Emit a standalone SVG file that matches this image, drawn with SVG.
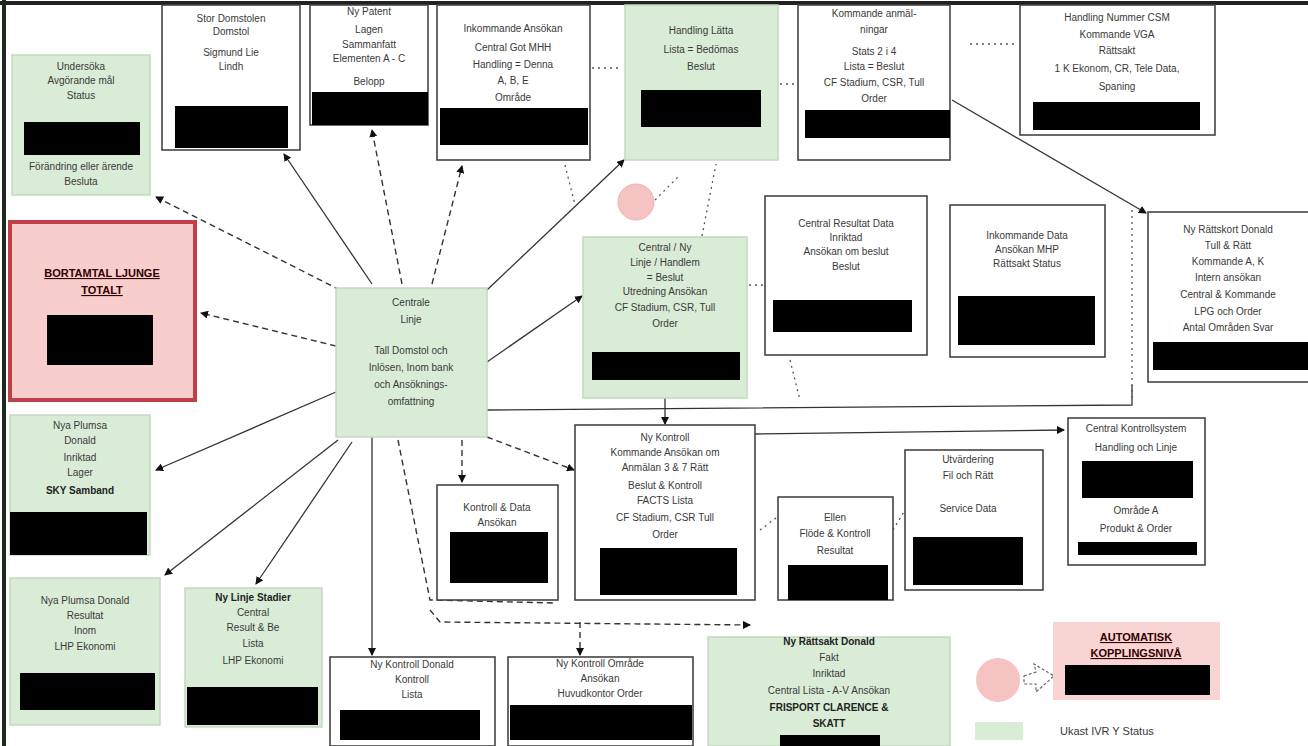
<svg xmlns="http://www.w3.org/2000/svg" width="1308" height="746" viewBox="0 0 1308 746">
<style>
.g{fill:#d9ecd6;stroke:#c4d8c1;stroke-width:1.5}
.w{fill:#fff;stroke:#444;stroke-width:1.6}
.bar{fill:#000}
.t{font-family:"Liberation Sans",Arial,sans-serif;font-size:10px;fill:#3a3a3a;text-anchor:middle}
.tb{font-family:"Liberation Sans",Arial,sans-serif;font-size:10px;fill:#222;text-anchor:middle;font-weight:bold}
.u{font-family:"Liberation Sans",Arial,sans-serif;font-size:11px;fill:#300;text-anchor:middle;font-weight:bold;text-decoration:underline}
.c{stroke:#333;fill:none;stroke-width:1.3}
.d{stroke:#333;fill:none;stroke-width:1.4;stroke-dasharray:6 4}
.p{stroke:#555;fill:none;stroke-width:1.3;stroke-dasharray:2 4}
</style>
<defs>
<marker id="a" markerWidth="8" markerHeight="8" refX="7" refY="4" orient="auto" markerUnits="userSpaceOnUse"><path d="M0,0 L8,4 L0,8 Z" fill="#111"/></marker>
</defs>
<rect x="0" y="0" width="1308" height="746" fill="#fff"/>
<line x1="0" y1="3" x2="1308" y2="3" stroke="#222" stroke-width="4"/>
<line x1="4" y1="0" x2="4" y2="746" stroke="#1e2a1e" stroke-width="4"/>

<g id="connectors">
<path class="d" d="M340,290 L156,197" marker-end="url(#a)"/>
<path class="c" d="M372,284 L284,154" marker-end="url(#a)"/>
<path class="d" d="M402,284 L372,130" marker-end="url(#a)"/>
<path class="d" d="M432,284 L462,166" marker-end="url(#a)"/>
<path class="c" d="M487,290 L624,160" marker-end="url(#a)"/>
<path class="d" d="M336,346 L201,313" marker-end="url(#a)"/>
<path class="c" d="M336,392 L156,470" marker-end="url(#a)"/>
<path class="c" d="M338,440 L165,575" marker-end="url(#a)"/>
<path class="c" d="M352,442 L256,584" marker-end="url(#a)"/>
<path class="c" d="M372,437 L372,655" marker-end="url(#a)"/>
<path class="d" d="M462,440 L462,482" marker-end="url(#a)"/>
<path class="d" d="M487,437 L574,470" marker-end="url(#a)"/>
<path class="c" d="M487,362 L582,296" marker-end="url(#a)"/>
<path class="d" d="M398,440 L430,600 L555,603"/>
<path class="d" d="M430,610 L440,622 L750,625" marker-end="url(#a)"/>
<path class="d" d="M580,622 L580,655" marker-end="url(#a)"/>
<path class="c" d="M487,410 L1132,405 L1132,385"/>
<path class="c" d="M755,434 L1064,430" marker-end="url(#a)"/>
<path class="c" d="M665,398 L665,424" marker-end="url(#a)"/>
<path class="p" d="M592,68 L622,68"/>
<path class="p" d="M780,84 L797,84"/>
<path class="p" d="M970,44 L1016,44"/>
<path class="c" d="M952,100 L1146,213" marker-end="url(#a)"/>
<path class="p" d="M1132,210 L1132,400"/>
<path class="p" d="M763,285 L748,285"/>
<path class="p" d="M702,236 L716,164"/>
<path class="p" d="M565,165 L575,205"/>
<path class="p" d="M790,360 L800,400"/>
<path class="p" d="M760,530 L780,515"/>
<path class="p" d="M893,530 L905,510"/>
<path class="p" d="M655,200 L680,175"/>
</g>

<g id="n1"><rect class="g" x="12" y="55" width="138" height="140"/>
<text class="t" x="81" y="70">Undersöka</text><text class="t" x="81" y="84">Avgörande mål</text><text class="t" x="81" y="99">Status</text>
<rect class="bar" x="24" y="122" width="116" height="33"/>
<text class="t" x="81" y="170">Förändring eller ärende</text><text class="t" x="81" y="185">Besluta</text></g>

<g id="n2"><rect class="w" x="162" y="5" width="138" height="145"/>
<text class="t" x="231" y="22">Stor Domstolen</text><text class="t" x="231" y="35">Domstol</text><text class="t" x="231" y="56">Sigmund Lie</text><text class="t" x="231" y="70">Lindh</text>
<rect class="bar" x="175" y="106" width="113" height="42"/></g>

<g id="n3"><rect class="w" x="310" y="5" width="118" height="120"/>
<text class="t" x="369" y="15">Ny Patent</text><text class="t" x="369" y="33">Lagen</text><text class="t" x="369" y="48">Sammanfatt</text><text class="t" x="369" y="62">Elementen A - C</text><text class="t" x="369" y="85">Belopp</text>
<rect class="bar" x="312" y="92" width="116" height="33"/></g>

<g id="n4"><rect class="w" x="437" y="5" width="153" height="155"/>
<text class="t" x="513" y="32">Inkommande Ansökan</text><text class="t" x="513" y="51">Central Got MHH</text><text class="t" x="513" y="68">Handling = Denna</text><text class="t" x="513" y="84">A, B, E</text><text class="t" x="513" y="101">Område</text>
<rect class="bar" x="440" y="108" width="148" height="37"/></g>

<g id="n5"><rect class="g" x="625" y="5" width="153" height="155"/>
<text class="t" x="701" y="34">Handling Lätta</text><text class="t" x="701" y="53">Lista = Bedömas</text><text class="t" x="701" y="70">Beslut</text>
<rect class="bar" x="641" y="90" width="120" height="37"/></g>

<g id="n6"><rect class="w" x="798" y="5" width="152" height="155"/>
<text class="t" x="874" y="17">Kommande anmäl-</text><text class="t" x="874" y="33">ningar</text><text class="t" x="874" y="55">Stats 2 i 4</text><text class="t" x="874" y="70">Lista = Beslut</text><text class="t" x="874" y="86">CF Stadium, CSR, Tull</text><text class="t" x="874" y="102">Order</text>
<rect class="bar" x="805" y="110" width="145" height="28"/></g>

<g id="n7"><rect class="w" x="1020" y="5" width="195" height="130"/>
<text class="t" x="1117" y="21">Handling Nummer CSM</text><text class="t" x="1117" y="38">Kommande VGA</text><text class="t" x="1117" y="54">Rättsakt</text><text class="t" x="1117" y="72">1 K Ekonom, CR, Tele Data,</text><text class="t" x="1117" y="90">Spaning</text>
<rect class="bar" x="1033" y="102" width="167" height="28"/></g>

<g id="n8"><rect x="10" y="222" width="185" height="178" fill="#f8cecc" stroke="#c0404a" stroke-width="4"/>
<text class="u" x="102" y="277">BORTAMTAL LJUNGE</text><text class="u" x="102" y="294">TOTALT</text>
<rect class="bar" x="47" y="315" width="106" height="50"/></g>

<g id="n9"><rect class="g" x="336" y="288" width="151" height="149"/>
<text class="t" x="411" y="306">Centrale</text><text class="t" x="411" y="323">Linje</text><text class="t" x="411" y="354">Tall Domstol och</text><text class="t" x="411" y="371">Inlösen, Inom bank</text><text class="t" x="411" y="388">och Ansöknings-</text><text class="t" x="411" y="405">omfattning</text></g>

<g id="n10"><rect class="g" x="10" y="415" width="140" height="140"/>
<text class="t" x="80" y="429">Nya Plumsa</text><text class="t" x="80" y="444">Donald</text><text class="t" x="80" y="461">Inriktad</text><text class="t" x="80" y="476">Lager</text><text class="tb" x="80" y="494">SKY Samband</text>
<rect class="bar" x="10" y="512" width="137" height="43"/></g>

<g id="n11"><rect class="g" x="583" y="237" width="164" height="161"/>
<text class="t" x="665" y="251">Central / Ny</text><text class="t" x="665" y="266">Linje / Handlem</text><text class="t" x="665" y="281">= Beslut</text><text class="t" x="665" y="295">Utredning Ansökan</text><text class="t" x="665" y="311">CF Stadium, CSR, Tull</text><text class="t" x="665" y="327">Order</text>
<rect class="bar" x="592" y="352" width="148" height="28"/></g>

<g id="n12"><rect class="w" x="765" y="196" width="162" height="159"/>
<text class="t" x="846" y="227">Central Resultat Data</text><text class="t" x="846" y="241">Inriktad</text><text class="t" x="846" y="255">Ansökan om beslut</text><text class="t" x="846" y="270">Beslut</text>
<rect class="bar" x="773" y="300" width="139" height="32"/></g>

<g id="n13"><rect class="w" x="950" y="205" width="155" height="152"/>
<text class="t" x="1027" y="239">Inkommande Data</text><text class="t" x="1027" y="253">Ansökan MHP</text><text class="t" x="1027" y="267">Rättsakt Status</text>
<rect class="bar" x="958" y="296" width="137" height="49"/></g>

<g id="n14"><rect class="w" x="1148" y="212" width="162" height="170"/>
<text class="t" x="1228" y="233">Ny Rättskort Donald</text><text class="t" x="1228" y="249">Tull &amp; Rätt</text><text class="t" x="1228" y="265">Kommande A, K</text><text class="t" x="1228" y="281">Intern ansökan</text><text class="t" x="1228" y="298">Central &amp; Kommande</text><text class="t" x="1228" y="315">LPG och Order</text><text class="t" x="1228" y="331">Antal Områden Svar</text>
<rect class="bar" x="1153" y="342" width="155" height="28"/></g>

<g id="n15"><circle cx="636" cy="202" r="18" fill="#f6c3c3" stroke="#f0b0b0" stroke-width="1"/></g>

<g id="n16"><rect class="w" x="575" y="425" width="180" height="175"/>
<text class="t" x="665" y="441">Ny Kontroll</text><text class="t" x="665" y="456">Kommande Ansökan om</text><text class="t" x="665" y="471">Anmälan 3 &amp; 7 Rätt</text><text class="t" x="665" y="489">Beslut &amp; Kontroll</text><text class="t" x="665" y="504">FACTS Lista</text><text class="t" x="665" y="521">CF Stadium, CSR Tull</text><text class="t" x="665" y="538">Order</text>
<rect class="bar" x="600" y="548" width="137" height="47"/></g>

<g id="n17"><rect class="w" x="437" y="485" width="121" height="115"/>
<text class="t" x="497" y="511">Kontroll &amp; Data</text><text class="t" x="497" y="526">Ansökan</text>
<rect class="bar" x="450" y="532" width="98" height="51"/></g>

<g id="n18"><rect class="w" x="778" y="497" width="115" height="103"/>
<text class="t" x="835" y="521">Ellen</text><text class="t" x="835" y="537">Flöde &amp; Kontroll</text><text class="t" x="835" y="554">Resultat</text>
<rect class="bar" x="788" y="565" width="100" height="35"/></g>

<g id="n19"><rect class="w" x="905" y="450" width="138" height="140"/>
<text class="t" x="968" y="463">Utvärdering</text><text class="t" x="968" y="479">Fil och Rätt</text><text class="t" x="968" y="512">Service Data</text>
<rect class="bar" x="913" y="537" width="110" height="48"/></g>

<g id="n20"><rect class="w" x="1068" y="418" width="137" height="147"/>
<text class="t" x="1136" y="432">Central Kontrollsystem</text><text class="t" x="1136" y="451">Handling och Linje</text>
<rect class="bar" x="1082" y="461" width="111" height="37"/>
<text class="t" x="1136" y="514">Område A</text><text class="t" x="1136" y="532">Produkt &amp; Order</text>
<rect class="bar" x="1078" y="542" width="119" height="13"/></g>

<g id="n21"><rect class="g" x="10" y="578" width="150" height="147"/>
<text class="t" x="85" y="604">Nya Plumsa Donald</text><text class="t" x="85" y="619">Resultat</text><text class="t" x="85" y="634">Inom</text><text class="t" x="85" y="650">LHP Ekonomi</text>
<rect class="bar" x="20" y="673" width="135" height="37"/></g>

<g id="n22"><rect class="g" x="185" y="588" width="137" height="139"/>
<text class="tb" x="253" y="601">Ny Linje Stadier</text><text class="t" x="253" y="616">Central</text><text class="t" x="253" y="631">Result &amp; Be</text><text class="t" x="253" y="647">Lista</text><text class="t" x="253" y="664">LHP Ekonomi</text>
<rect class="bar" x="187" y="687" width="131" height="38"/></g>

<g id="n23"><rect class="w" x="330" y="657" width="165" height="89"/>
<text class="t" x="412" y="668">Ny Kontroll Donald</text><text class="t" x="412" y="683">Kontroll</text><text class="t" x="412" y="698">Lista</text>
<rect class="bar" x="340" y="710" width="140" height="30"/></g>

<g id="n24"><rect class="w" x="508" y="657" width="185" height="89"/>
<text class="t" x="600" y="667">Ny Kontroll Område</text><text class="t" x="600" y="682">Ansökan</text><text class="t" x="600" y="697">Huvudkontor Order</text>
<rect class="bar" x="510" y="705" width="182" height="35"/></g>

<g id="n25"><rect class="g" x="708" y="637" width="242" height="109"/>
<text class="tb" x="829" y="645">Ny Rättsakt Donald</text><text class="t" x="829" y="661">Fakt</text><text class="t" x="829" y="677">Inriktad</text><text class="t" x="829" y="694">Central Lista - A-V Ansökan</text><text class="tb" x="829" y="711">FRISPORT CLARENCE &amp;</text><text class="tb" x="829" y="727">SKATT</text>
<rect class="bar" x="780" y="735" width="100" height="11"/></g>

<g id="legend">
<circle cx="998" cy="680" r="22" fill="#f6c3c3"/>
<path d="M1024,676 L1036,672 L1034,664 L1054,676 L1036,692 L1036,684 L1024,684 Z" fill="#fff" stroke="#667" stroke-width="1.2" stroke-dasharray="3 2"/>
<rect x="1053" y="622" width="167" height="78" fill="#f8d5d3"/>
<text class="u" x="1136" y="641">AUTOMATISK</text><text class="u" x="1136" y="657">KOPPLINGSNIVÅ</text>
<rect class="bar" x="1065" y="665" width="145" height="30"/>
<rect x="975" y="722" width="48" height="18" fill="#d9ecd6"/>
<text class="t" x="1060" y="735" style="text-anchor:start;font-size:11px">Ukast IVR Y Status</text>
</g>
</svg>
